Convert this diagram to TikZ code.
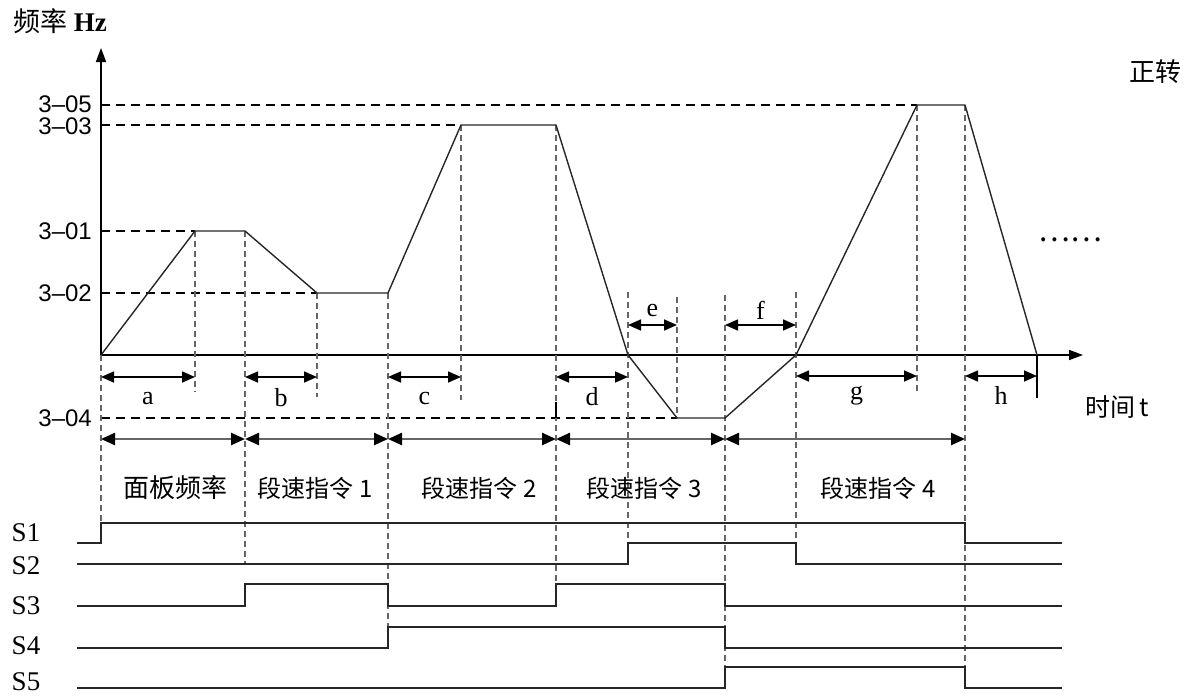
\documentclass[tikz,border=0pt]{standalone}
\usepackage{fontspec}
\setmainfont{Liberation Serif}
\newfontfamily\cjk{Noto Sans CJK SC}
\newfontfamily\numf{Liberation Sans}
\usetikzlibrary{arrows.meta}

\begin{document}
\begin{tikzpicture}[
 x=1pt,y=-1pt,
 axis/.style={-{Triangle[length=14pt,width=10pt]},line width=1.6pt},
 curve/.style={line width=1.4pt,black!85,line join=round},
 lvl/.style={line width=1.4pt,dash pattern=on 9pt off 6pt},
 guide/.style={line width=1.8pt,black!60,dash pattern=on 6pt off 4pt},
 dim/.style={{Triangle[length=13pt,width=11pt]}-{Triangle[length=13pt,width=11pt]},line width=1.6pt},
 span/.style={{Triangle[length=14pt,width=12pt,color=black]}-{Triangle[length=14pt,width=12pt,color=black]},line width=2.4pt,black!60},
 sig/.style={line width=1.5pt,black!85},
 lab/.style={font=\fontsize{26}{28}\selectfont,inner sep=0pt},
 ylab/.style={font=\numf\fontsize{24}{26}\selectfont,anchor=east,inner sep=0pt},
 zh/.style={font=\cjk\fontsize{24}{26}\selectfont,inner sep=0pt},
 slab/.style={font=\fontsize{27}{29}\selectfont,inner sep=0pt}
]
\useasboundingbox (0,0) rectangle (1191,696);

% corner points of the frequency curve
\foreach \n/\x/\y in {0/101/355,1/195/231,2/245/231,3/317/293,4/388/293,5/461/125,6/556/125,
  7/628/355,8/677/418,9/725/418,10/796/355,11/917/105,12/965/105,13/1037/355}
  \coordinate (p\n) at (\x,\y);

% axes
\draw[axis] (p0) -- (101,48) coordinate (ytip);
\draw[axis] (p0) -- (1083,355) coordinate (xtip);
\node[font=\fontsize{27}{29}\selectfont,inner sep=0pt] (fq) at (60,21) {{\cjk 频率} \textbf{Hz}};
\node[zh,font=\cjk\fontsize{25}{27}\selectfont] (tm) at (1117,407) {时间\,t};
\node[zh,font=\cjk\fontsize{26}{28}\selectfont] (fwd) at (1155,72) {正转};
\node[zh,font=\cjk\fontsize{30}{32}\selectfont] (more) at (1070,240) {……};

% frequency levels
\node[ylab] (l5) at (92,104) {3–05};
\node[ylab] (l3) at (92,126) {3–03};
\node[ylab] (l1) at (92,231) {3–01};
\node[ylab] (l2) at (92,293) {3–02};
\node[ylab] (l4) at (92,418) {3–04};
\draw[lvl] (101,105) -- (p11);
\draw[lvl] (101,125) -- (p5);
\draw[lvl] (101,231) -- (p1);
\draw[lvl] (101,293) -- (p3);
\draw[lvl] (101,418) -- (p8);

% guide lines
\foreach \n/\a/\b in {0/355/523,1/231/392,2/231/564,3/293/397,4/293/627,5/125/400,6/125/584,
  7/292/543,8/297/418,9/295/688,10/292/564,11/105/393,12/105/667}
  \draw[guide] (p\n |- 0,\a) -- (p\n |- 0,\b);
\draw[line width=1.4pt] (p6 |- 0,402) -- (p6 |- 0,418);
\draw[line width=1.4pt] (p13) -- (p13 |- 0,398);

% output frequency
\draw[curve] (p0) \foreach \n in {1,...,13}{ -- (p\n)};

% accel / decel times
\foreach \i/\j/\y/\t/\s in {0/1/377/a/-22,2/3/377/b/-21,4/5/377/c/-21,6/7/377/d/-20,
  7/8/325/e/15,9/10/325/f/15,10/11/376/g/-20,12/13/376/h/-19}
  \draw[dim] (p\i |- 0,\y) -- (p\j |- 0,\y) node[lab,midway,yshift=\s pt] {\t};

% speed segments
\foreach \i/\j in {0/2,2/4,4/6,6/9,9/12}
  \draw[span] (p\i |- 0,439) -- (p\j |- 0,439);
\node[zh,font=\cjk\fontsize{26}{28}\selectfont] (seg0) at (175,488) {面板频率};
\node[zh] (seg1) at (315,488) {段速指令 1};
\node[zh] (seg2) at (479,488) {段速指令 2};
\node[zh] (seg3) at (644,488) {段速指令 3};
\node[zh] (seg4) at (878,488) {段速指令 4};

% terminal signals
\node[slab] (s1) at (26,533) {S1};
\node[slab] (s2) at (26,566) {S2};
\node[slab] (s3) at (26,606) {S3};
\node[slab] (s4) at (26,646) {S4};
\node[slab] (s5) at (26,682) {S5};
\draw[sig] (77,543) -- (101,543) -- (101,523) -- (965,523) -- (965,543) -- (1062,543);
\draw[sig] (77,564) -- (628,564) -- (628,543) -- (796,543) -- (796,564) -- (1062,564);
\draw[sig] (77,606) -- (245,606) -- (245,584) -- (388,584) -- (388,606) -- (556,606)
  -- (556,584) -- (725,584) -- (725,606) -- (1062,606);
\draw[sig] (77,648) -- (388,648) -- (388,627) -- (725,627) -- (725,648) -- (1062,648);
\draw[sig] (77,688) -- (725,688) -- (725,667) -- (965,667) -- (965,688) -- (1062,688);
\end{tikzpicture}
\end{document}
